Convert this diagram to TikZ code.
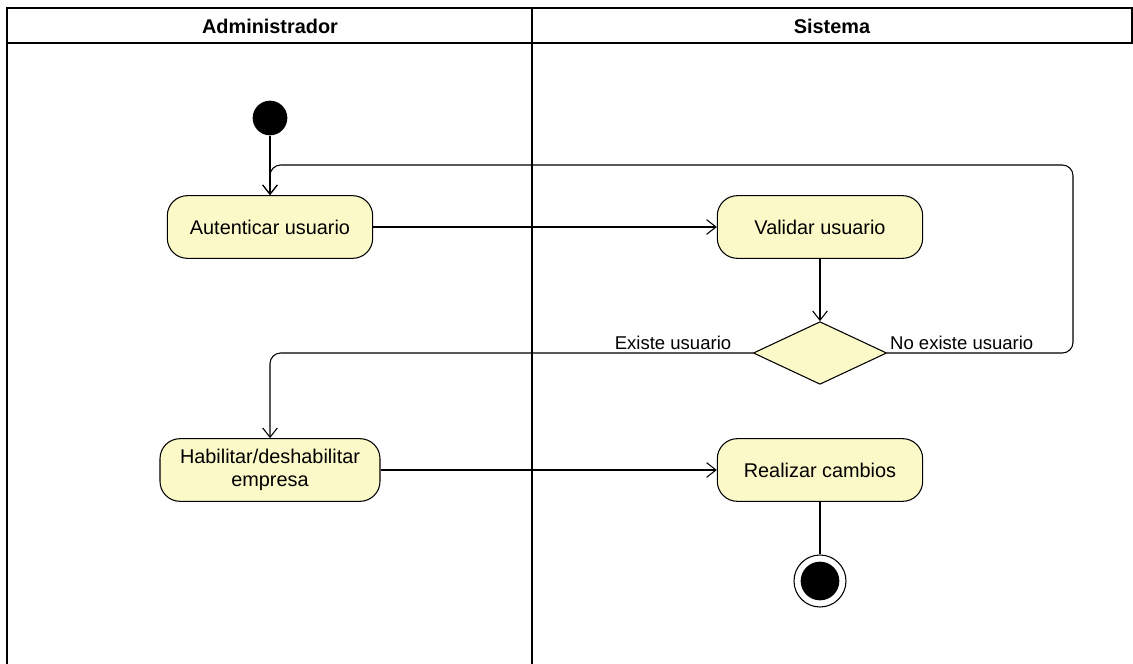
\documentclass[tikz,border=0pt]{standalone}
\usepackage{fontspec}
\setmainfont{Liberation Sans}
\usepackage{tikz}
\usetikzlibrary{positioning,calc,arrows.meta,shapes.geometric}
\definecolor{actfill}{RGB}{252,249,200}

\begin{document}
\begin{tikzpicture}[x=0.75pt,y=-0.75pt,
        font=\fontsize{14.9}{17.5}\selectfont,
        lane/.style={line width=1.1pt},
        act/.style={draw,line width=0.8pt,fill=actfill,rounded corners=15pt,
            minimum width=154pt,minimum height=47pt,align=center,inner sep=2pt},
        decision/.style={draw,line width=0.8pt,fill=actfill,diamond,
            minimum width=100pt,minimum height=47pt,inner sep=0pt},
        guard/.style={inner sep=2pt,font=\fontsize{13.9}{16.5}\selectfont},
        flow/.style={line width=0.8pt,-{Straight Barb[length=7pt,width=11pt]}},
        plain/.style={line width=0.8pt}]
        \useasboundingbox (0,0) rectangle (1133,664);
        \draw[lane] (7,664) -- (7,8) -- (1133,8);
        \draw[lane] (7,43) -- (1133,43);
        \draw[lane] (532,8) -- (532,664);
        \draw[lane] (1132,8) -- (1132,43);
        \node[font=\fontsize{14.9}{17.5}\selectfont\bfseries] (admin) at (270,26) {Administrador};
        \node[font=\fontsize{14.9}{17.5}\selectfont\bfseries] (sist) at (832,26) {Sistema};

        \node[circle,fill=black,minimum size=26pt,inner sep=0pt] (start) at (270,118) {};
        \node[act] (aut) at (270,227) {Autenticar usuario};
        \node[act] (val) at (820,227) {Validar usuario};
        \node[decision] (dec) at (820,353) {};
        \node[act,minimum width=165pt] (hab) at (270,470) {Habilitar/deshabilitar\\empresa};
        \node[act] (rea) at (820,470) {Realizar cambios};
        \node[circle,draw,line width=0.8pt,minimum size=39pt,inner sep=0pt] (fin) at (820,581) {};
        \node[circle,fill=black,minimum size=29pt,inner sep=0pt] (finin) at (820,581) {};
        \coordinate (loopR) at (1073,165);

        \draw[flow] (start) -- (aut);
        \draw[flow] (aut) -- (val);
        \draw[flow] (val) -- (dec);
        \draw[flow,rounded corners=8pt] (dec.east) -| (loopR) -| (aut.north);
        \draw[flow,rounded corners=8pt] (dec.west) -| (hab.north);
        \draw[flow] (hab) -- (rea);
        \draw[plain] (rea) -- (fin);

        \node[guard,anchor=south west] (noex) at (dec.east) {No existe usuario};
        \node[guard,anchor=south east] (ex) at ([xshift=-14]dec.west) {Existe usuario};
    \end{tikzpicture}
\end{document}
